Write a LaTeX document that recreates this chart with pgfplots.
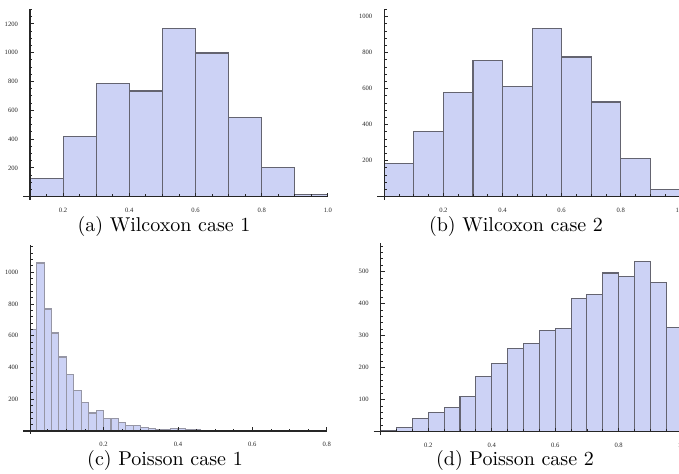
\documentclass[border=0pt]{standalone}
\usepackage{fontspec}
\usepackage{pgfplots}
\pgfplotsset{compat=1.18}
\newfontfamily\tickfont{Liberation Serif}
\definecolor{barfill}{RGB}{204,210,245}
\definecolor{baredge}{RGB}{100,100,112}
\definecolor{baredgelight}{RGB}{150,150,165}

\pgfplotsset{
  mmahist/.style={
    scale only axis,
    anchor=south west,
    axis x line=bottom, axis y line=left,
    axis line style={-, line width=0.6pt, black!85},
    x axis line style={shorten <=-3.5pt},
    y axis line style={shorten <=-1.5pt},
    axis on top,
    ymin=0,
    tick align=inside,
    major tick length=2pt, minor tick length=1.2pt,
    tick style={black!85, line width=0.4pt},
    tick label style={font=\tickfont\fontsize{3.3}{3.8}\selectfont, text=black!85},
    /pgf/number format/assume math mode=true,
    x tick label style={/pgf/number format/fixed, /pgf/number format/fixed zerofill, /pgf/number format/precision=1},
    y tick label style={/pgf/number format/1000 sep={}},
    xticklabel shift=2pt,
    yticklabel shift=2.5pt,
  },
  histbar/.style={ybar interval, fill=barfill, draw=baredge, line width=0.55pt},
}

\begin{document}
\begin{tikzpicture}
% (a) Wilcoxon case 1
\begin{axis}[mmahist, at={(15pt,138.65pt)}, width=148.95pt, height=93.6pt,
  xmin=0.1, xmax=1.0, ymax=1300,
  xtick={0.2,0.4,0.6,0.8,1.0}, minor xtick={0.15,0.2,...,1.0},
  ytick={200,400,...,1200}, minor ytick={50,100,...,1300}]
\addplot[histbar] coordinates {
  (0.1,128) (0.2,421) (0.3,787) (0.4,734) (0.5,1165)
  (0.6,998) (0.7,549) (0.8,201) (0.9,17) (1.0,0)
};
\end{axis}
\node at (82pt,123.5pt) {(a) Wilcoxon case 1};

% (b) Wilcoxon case 2
\begin{axis}[mmahist, at={(192.15pt,138.65pt)}, width=147.75pt, height=93.6pt,
  xmin=0, xmax=1.0, ymax=1040,
  xtick={0.2,0.4,0.6,0.8,1.0}, minor xtick={0.05,0.1,...,1.0},
  ytick={200,400,...,1000}, minor ytick={40,80,...,1040}]
\addplot[histbar] coordinates {
  (0,183) (0.1,363) (0.2,578) (0.3,756) (0.4,613) (0.5,932)
  (0.6,776) (0.7,526) (0.8,213) (0.9,39) (1.0,0)
};
\end{axis}
\node at (258pt,123.5pt) {(b) Wilcoxon case 2};

% (c) Poisson case 1
\begin{axis}[mmahist, at={(15.15pt,21.5pt)}, width=148.2pt, height=92.9pt,
  xmin=0.003, xmax=0.8, ymax=1170,
  xtick={0.2,0.4,0.6,0.8}, minor xtick={0.05,0.1,...,0.8},
  ytick={200,400,...,1000}, minor ytick={40,80,...,1160}]
\addplot[histbar, draw=baredgelight] coordinates {
  (0.00,638) (0.02,1058) (0.04,768) (0.06,617) (0.08,466) (0.10,355)
  (0.12,256) (0.14,180) (0.16,113) (0.18,128) (0.20,76) (0.22,76)
  (0.24,52) (0.26,34) (0.28,36) (0.30,23) (0.32,17) (0.34,10)
  (0.36,9) (0.38,13) (0.40,14) (0.42,8) (0.44,7) (0.46,5)
  (0.48,3) (0.50,2) (0.52,2) (0.54,3) (0.56,1) (0.58,2)
  (0.60,1) (0.62,2) (0.64,1) (0.66,1) (0.68,0) (0.70,1)
  (0.72,0) (0.74,1) (0.76,0) (0.78,1) (0.80,0)
};
\end{axis}
\node at (82.5pt,6.75pt) {(c) Poisson case 1};

% (d) Poisson case 2
\begin{axis}[mmahist, at={(190.35pt,21.15pt)}, width=150.7pt, height=94.4pt,
  xmin=0.05, xmax=1.0, ymax=590,
  xtick={0.2,0.4,0.6,0.8,1.0}, minor xtick={0.1,0.15,...,1.0},
  ytick={100,200,...,500}, minor ytick={20,40,...,580}]
\addplot[histbar] coordinates {
  (0.05,5) (0.10,12) (0.15,40) (0.20,59) (0.25,76) (0.30,110)
  (0.35,172) (0.40,212) (0.45,259) (0.50,275) (0.55,317) (0.60,323)
  (0.65,415) (0.70,429) (0.75,496) (0.80,484) (0.85,533) (0.90,467)
  (0.95,325) (1.00,0)
};
\end{axis}
\node at (257.5pt,6.75pt) {(d) Poisson case 2};

\pgfresetboundingbox
\path[use as bounding box] (0,0) rectangle (339.5pt,237pt);
\end{tikzpicture}
\end{document}
